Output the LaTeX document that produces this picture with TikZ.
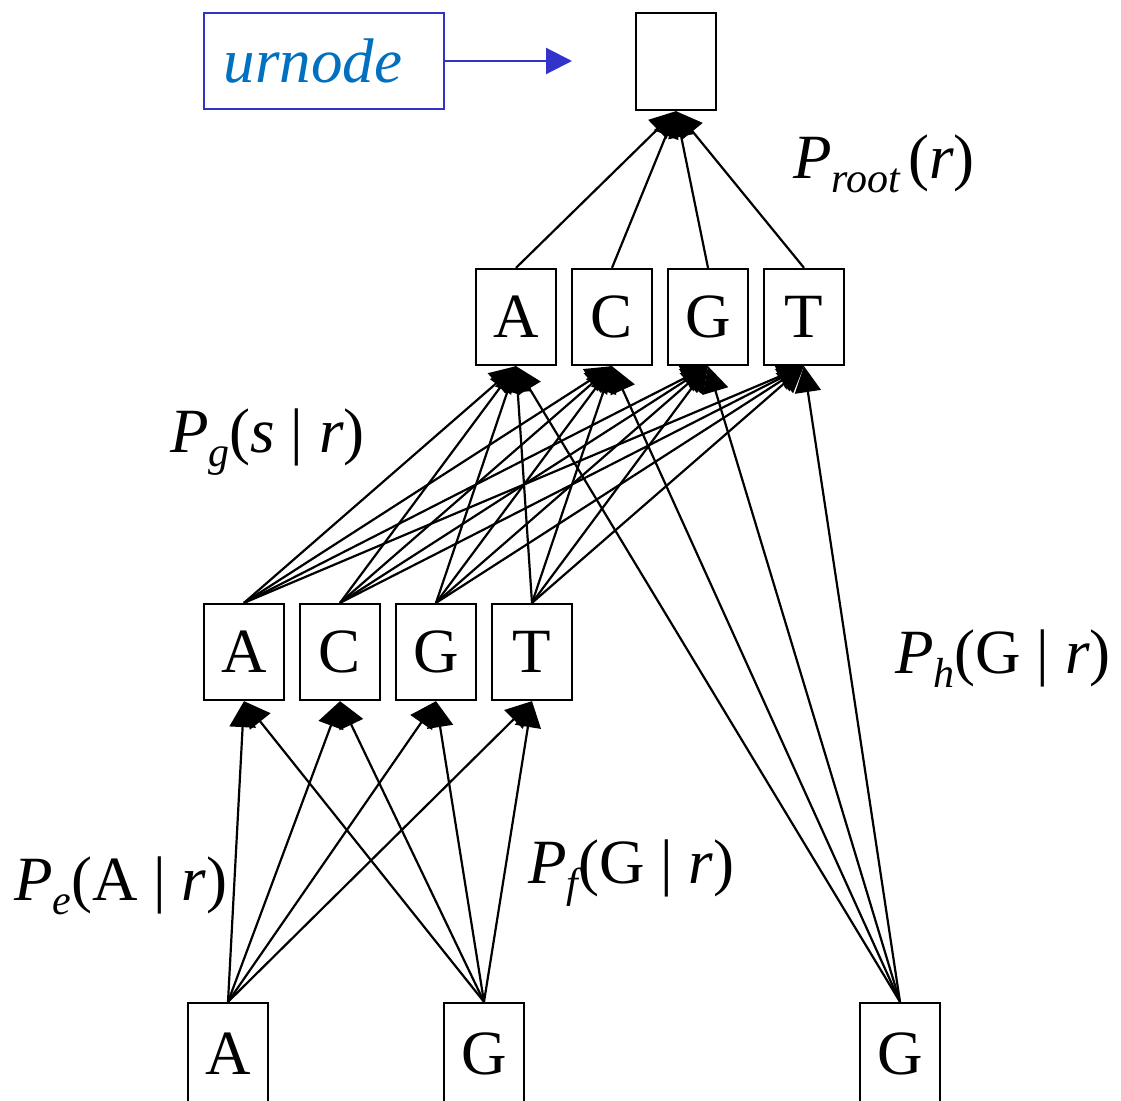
\documentclass[tikz,border=0pt]{standalone}
\usepackage{fontspec}
\setmainfont{Liberation Serif}
\usetikzlibrary{arrows.meta}
\definecolor{urblue}{RGB}{51,51,204}
\definecolor{urtext}{RGB}{0,112,192}
\newcommand{\subx}[1]{\raisebox{-14pt}{\fontsize{42}{42}\selectfont\itshape #1}}
\begin{document}
\begin{tikzpicture}[x=1pt,y=-1pt,
  box/.style={draw, line width=2.3pt, minimum width=80pt, minimum height=96pt, inner sep=0pt, font=\fontsize{63}{63}\selectfont},
  edge/.style={line width=2.2pt, -{Triangle[length=26pt,width=26pt]}},
  lab/.style={anchor=base west, inner sep=0pt, font=\fontsize{63}{63}\selectfont},
]
\fill[white] (0,0) rectangle (1121,1100);
\useasboundingbox (0,0) rectangle (1121,1100);

% nodes
\node[draw=urblue, line width=1.8pt, minimum width=240pt, minimum height=96pt, inner sep=0pt, text=urtext, font=\fontsize{63}{63}\selectfont\itshape] (ur) at (324,61) {\hspace*{-22pt}urnode};
\coordinate (urtip) at (572,61);
\node[box, minimum height=97pt] (root) at (676,61.5) {};

\node[box] (mA) at (516,317) {A};
\node[box] (mC) at (612,317) {C};
\node[box] (mG) at (708,317) {G};
\node[box] (mT) at (804,317) {T};

\node[box] (lA) at (244,652) {A};
\node[box] (lC) at (340,652) {C};
\node[box] (lG) at (436,652) {G};
\node[box] (lT) at (532,652) {T};

\node[box, minimum height=102pt] (bA) at (228,1054) {A};
\node[box, minimum height=102pt] (bG) at (484,1054) {G};
\node[box, minimum height=102pt] (bH) at (900,1054) {G};

% edges
\draw[urblue, line width=2.2pt, -{Triangle[length=26pt,width=26pt]}] (ur.east) -- (urtip);
\foreach \s in {mA,mC,mG,mT} \draw[edge] (\s.north) -- (root.south);
\foreach \s in {lA,lC,lG,lT,bH}
  \foreach \t in {mA,mC,mG,mT}
    \draw[edge] (\s.north) -- (\t.south);
\foreach \s in {bA,bG}
  \foreach \t in {lA,lC,lG,lT}
    \draw[edge] (\s.north) -- (\t.south);

% labels
\node[lab] (lroot) at (793,178) {\textit{P}\subx{root}\hspace{8pt}(\textit{r})};
\node[lab] (lg) at (170,452) {\textit{P}\subx{g}(\textit{s} | \textit{r})};
\node[lab] (lh) at (895,673) {\textit{P}\subx{h}(G | \textit{r})};
\node[lab] (le) at (14,900) {\textit{P}\subx{e}(A | \textit{r})};
\node[lab] (lf) at (528,883) {\textit{P}\subx{f}(G | \textit{r})};
\end{tikzpicture}
\end{document}
